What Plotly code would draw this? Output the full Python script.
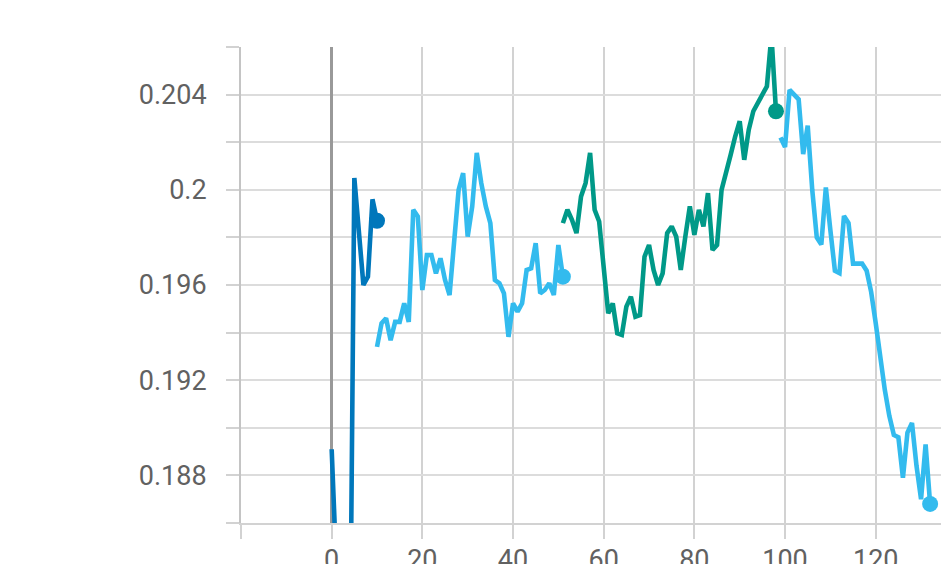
import plotly.graph_objects as go

# Scalar runs plotted against training step
run_a_steps = list(range(0, 11))
run_a_values = [0.1891, 0.1825, 0.1795, 0.1785, 0.1790, 0.2005, 0.1985, 0.1960,
                0.19635, 0.1996, 0.1987]

run_b_steps = list(range(10, 52))
run_b_values = [0.19340, 0.19439, 0.19460, 0.19368, 0.19445, 0.19445, 0.19523,
                0.19445, 0.19916, 0.19888, 0.19579, 0.19726, 0.19726, 0.19649,
                0.19712, 0.19621, 0.19558, 0.19789, 0.20000, 0.20070, 0.19803,
                0.19930, 0.20155, 0.20028, 0.19930, 0.19860, 0.19621, 0.19607,
                0.19565, 0.19382, 0.19523, 0.19488, 0.19523, 0.19663, 0.19670,
                0.19776, 0.19565, 0.19579, 0.19607, 0.19558, 0.19768, 0.19635]

run_c_steps = list(range(51, 99))
run_c_values = [0.19860, 0.19916, 0.19874, 0.19818, 0.19972, 0.20028, 0.20155,
                0.19916, 0.19867, 0.19677, 0.19481, 0.19523, 0.19397, 0.19390,
                0.19509, 0.19551, 0.19467, 0.19474, 0.19719, 0.19768, 0.19663,
                0.19600, 0.19649, 0.19818, 0.19846, 0.19803, 0.19663, 0.19803,
                0.19930, 0.19811, 0.19916, 0.19846, 0.19986, 0.19747, 0.19768,
                0.20000, 0.20084, 0.20147, 0.20224, 0.20288, 0.20126, 0.20253,
                0.20330, 0.20365, 0.20400, 0.20435, 0.20650, 0.20330]

run_d_steps = list(range(99, 133))
run_d_values = [0.2022, 0.2018, 0.2042, 0.2040, 0.2038, 0.2015, 0.2027, 0.2000,
                0.1980, 0.1977, 0.2001, 0.1983, 0.1966, 0.1965, 0.1989, 0.1986,
                0.1969, 0.1969, 0.1969, 0.1966, 0.1957, 0.1944, 0.1929, 0.1916,
                0.1905, 0.1897, 0.1896, 0.1879, 0.1898, 0.1902, 0.1884, 0.1870,
                0.1893, 0.1868]

x_tick_values = [-20, 0, 20, 40, 60, 80, 100, 120]
x_tick_labels = ["", "0", "20", "40", "60", "80", "100", "120"]
y_tick_values = [0.188, 0.192, 0.196, 0.2, 0.204]
y_tick_labels = ["0.188", "0.192", "0.196", "0.2", "0.204"]

runs = [
    (run_a_steps, run_a_values, "#0077bb"),
    (run_b_steps, run_b_values, "#33bbee"),
    (run_c_steps, run_c_values, "#009988"),
    (run_d_steps, run_d_values, "#33bbee"),
]

fig = go.Figure()
for steps, values, color in runs:
    fig.add_trace(go.Scatter(
        x=steps, y=values, mode="lines",
        line=dict(color=color, width=4.6),
        showlegend=False, hoverinfo="skip",
    ))
    # circle on the latest point of each run
    fig.add_trace(go.Scatter(
        x=[steps[-1]], y=[values[-1]], mode="markers",
        marker=dict(color=color, size=16),
        showlegend=False, hoverinfo="skip", cliponaxis=True,
    ))

tick_font = dict(family="Roboto", size=27, color="#616161")

fig.update_layout(
    width=941, height=564,
    margin=dict(l=241, r=0, t=47, b=41),
    plot_bgcolor="white", paper_bgcolor="white",
    xaxis=dict(
        range=[-20, 134.4], automargin=False,
        tickmode="array", tickvals=x_tick_values, ticktext=x_tick_labels,
        showgrid=True, gridcolor="#d2d2d2", gridwidth=2,
        zeroline=True, zerolinecolor="#999999", zerolinewidth=2.5,
        showline=True, linecolor="#d2d2d2", linewidth=2,
        ticks="outside", ticklen=14, tickwidth=2, tickcolor="#d2d2d2",
        ticklabelstandoff=-2,
        tickfont=tick_font,
    ),
    yaxis=dict(
        range=[0.186, 0.206], automargin=False,
        tickmode="array", tickvals=y_tick_values, ticktext=y_tick_labels,
        showgrid=True, gridcolor="#dcdcdc", gridwidth=2,
        zeroline=False,
        showline=True, linecolor="#c4c4c4", linewidth=2,
        ticks="outside", ticklen=13, tickwidth=2, tickcolor="#d2d2d2",
        ticklabelstandoff=14,
        minor=dict(dtick=0.002, tick0=0.0, ticks="outside", ticklen=13,
                   tickwidth=2, tickcolor="#d2d2d2",
                   showgrid=True, gridcolor="#dcdcdc", gridwidth=2),
        tickfont=tick_font,
    ),
)

fig.write_html("out.html")
